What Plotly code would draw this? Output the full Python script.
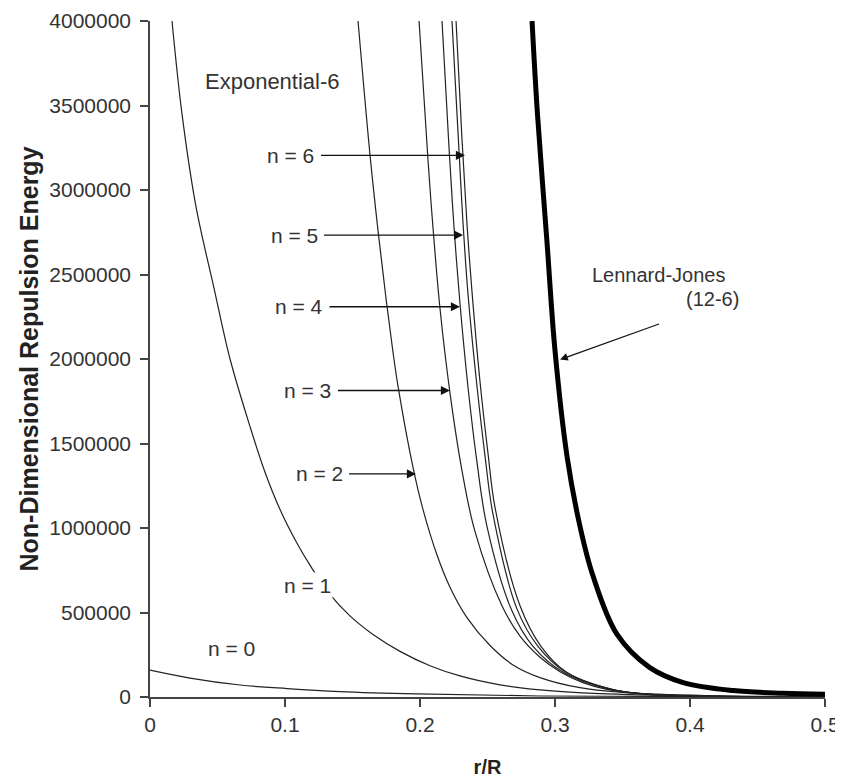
import plotly.graph_objects as go

# ---- data ----
n0_x = [0.0, 0.0296, 0.0667, 0.1015, 0.1407, 0.1978, 0.2889, 0.5]
n0_y = [159000, 112000, 71000, 50000, 32000, 18000, 6000, 0]

n1_x = [0.0163, 0.0237, 0.0341, 0.0474, 0.0593, 0.0741, 0.0852, 0.0963, 0.1089, 0.1185,
        0.1319, 0.1481, 0.1652, 0.1852, 0.2074, 0.2296, 0.2593, 0.2889, 0.3333, 0.4074, 0.5]
n1_y = [4000000, 3450000, 2900000, 2420000, 2000000, 1600000, 1330000, 1110000, 910000, 780000,
        620000, 480000, 370000, 270000, 185000, 125000, 72000, 42000, 20000, 6000, 0]

n2_x = [0.1541, 0.1630, 0.1689, 0.1748, 0.1800, 0.1837, 0.1948, 0.2022, 0.2126, 0.2222,
        0.2348, 0.2519, 0.2689, 0.2889, 0.3185, 0.348, 0.407, 0.5]
n2_y = [4000000, 3205000, 2760000, 2360000, 2040000, 1840000, 1360000, 1110000, 840000, 650000,
        470000, 305000, 190000, 115000, 55000, 28000, 10000, 0]

n3_x = [0.1993, 0.2059, 0.2096, 0.2148, 0.2222, 0.2311, 0.2407, 0.2607, 0.2741, 0.2889,
        0.3037, 0.3207, 0.3385, 0.370, 0.5]
n3_y = [4000000, 3180000, 2780000, 2300000, 1800000, 1340000, 980000, 540000, 360000, 235000,
        150000, 85000, 45000, 15000, 0]

n4_x = [0.2163, 0.2215, 0.2252, 0.2296, 0.2356, 0.2422, 0.2496, 0.2681, 0.2837, 0.3074, 0.3407, 0.370, 0.5]
n4_y = [4000000, 3250000, 2780000, 2330000, 1830000, 1390000, 1010000, 510000, 300000, 140000, 45000, 15000, 0]

n5_x = [0.2237, 0.2289, 0.2319, 0.2356, 0.2422, 0.2481, 0.2541, 0.2719, 0.2874, 0.3074, 0.3407, 0.370, 0.5]
n5_y = [4000000, 3230000, 2800000, 2380000, 1840000, 1430000, 1080000, 520000, 300000, 150000, 48000, 15000, 0]

n6_x = [0.2267, 0.2311, 0.2348, 0.2385, 0.2444, 0.2504, 0.2556, 0.2741, 0.2896, 0.3081, 0.3407, 0.370, 0.5]
n6_y = [4000000, 3300000, 2800000, 2400000, 1870000, 1440000, 1120000, 540000, 300000, 150000, 48000, 15000, 0]

lj_x = [0.283, 0.287, 0.294, 0.300, 0.309, 0.3185, 0.328, 0.346, 0.370, 0.395, 0.432, 0.469, 0.5]
lj_y = [4000000, 3450000, 2700000, 2050000, 1420000, 1010000, 720000, 370000, 175000, 85000, 38000, 22000, 16000]

y_ticks = [0, 500000, 1000000, 1500000, 2000000, 2500000, 3000000, 3500000, 4000000]
x_ticks = [0, 0.1, 0.2, 0.3, 0.4, 0.5]
x_tick_labels = ["0", "0.1", "0.2", "0.3", "0.4", "0.5"]

FONT = "Arial, Liberation Sans, sans-serif"

fig = go.Figure()
thin = dict(color="#222", width=1.2, shape="spline", smoothing=1.0)
for xs, ys, name in [(n0_x, n0_y, "n = 0"), (n1_x, n1_y, "n = 1"), (n2_x, n2_y, "n = 2"),
                     (n3_x, n3_y, "n = 3"), (n4_x, n4_y, "n = 4"), (n5_x, n5_y, "n = 5"),
                     (n6_x, n6_y, "n = 6")]:
    fig.add_trace(go.Scatter(x=xs, y=ys, mode="lines", line=thin, name=name, showlegend=False))
fig.add_trace(go.Scatter(x=lj_x, y=lj_y, mode="lines", name="Lennard-Jones (12-6)",
                         line=dict(color="black", width=5, shape="spline", smoothing=1.0),
                         showlegend=False))

ann_font = dict(family=FONT, size=21, color="#333")
annotations = []
# labels with arrows: (text, text_x, text_y, tip_x, tip_y)
arrowed = [("n = 6", 0.1044, 3205000, 0.2333, 3205000),
           ("n = 5", 0.1067, 2733000, 0.2319, 2733000),
           ("n = 4", 0.1104, 2309000, 0.2296, 2309000),
           ("n = 3", 0.1170, 1814000, 0.2222, 1814000),
           ("n = 2", 0.1252, 1320000, 0.1970, 1320000)]
for t, tx, ty, px, py in arrowed:
    annotations.append(dict(text=t, x=px, y=py, ax=tx, ay=ty, xref="x", yref="y",
                            axref="x", ayref="y", showarrow=True, arrowhead=2, arrowsize=1.3,
                            arrowwidth=1.4, arrowcolor="#111", font=ann_font, borderpad=6))
annotations.append(dict(text="n = 1", x=0.1170, y=660000, xref="x", yref="y", showarrow=False,
                        font=ann_font, bgcolor="white"))
annotations.append(dict(text="n = 0", x=0.0607, y=289000, xref="x", yref="y", showarrow=False,
                        font=ann_font))
annotations.append(dict(text="Exponential-6", x=0.0911, y=3641000, xref="x", yref="y",
                        showarrow=False, font=dict(family=FONT, size=22, color="#333")))
annotations.append(dict(text="Lennard-Jones", x=0.377, y=2498000, xref="x", yref="y",
                        showarrow=False, font=dict(family=FONT, size=20, color="#333")))
annotations.append(dict(text="(12-6)", x=0.4163, y=2356000, xref="x", yref="y",
                        showarrow=False, font=dict(family=FONT, size=20, color="#333")))
annotations.append(dict(text=" ", x=0.3037, y=1997000, ax=0.3778, ay=2209000, xref="x", yref="y",
                        axref="x", ayref="y", showarrow=True, arrowhead=2, arrowsize=1.3,
                        arrowwidth=1.2, arrowcolor="#111", font=dict(size=2), borderpad=0))

# the page adds an 8px body margin, so the figure is sized/offset to compensate
fig.update_layout(
    width=835, height=772,
    margin=dict(l=142, r=18, t=13, b=83),
    paper_bgcolor="white", plot_bgcolor="white",
    font=dict(family=FONT, color="#333"),
    annotations=annotations,
)
fig.update_xaxes(range=[0, 0.5], tickvals=x_ticks, ticktext=x_tick_labels, automargin=False,
                 ticklabeloverflow="allow",
                 showline=True, linecolor="#444", linewidth=1.5, ticks="outside", ticklen=8,
                 tickcolor="#444", tickwidth=1.5, showgrid=False, zeroline=False,
                 tickfont=dict(size=21, color="#333"),
                 title=dict(text="<b>r/R</b>", font=dict(size=20, color="#222"), standoff=25))
fig.update_yaxes(range=[0, 4000000], tickvals=y_ticks, ticktext=[str(v) for v in y_ticks],
                 automargin=False, ticklabelstandoff=5, ticklabeloverflow="allow",
                 showline=True, linecolor="#444", linewidth=1.5, ticks="outside", ticklen=8,
                 tickcolor="#444", tickwidth=1.5, showgrid=False, zeroline=False,
                 tickfont=dict(size=21, color="#333"),
                 title=dict(text="<b>Non-Dimensional Repulsion Energy</b>",
                            font=dict(size=25, color="#222"), standoff=4))

fig.write_html("out.html")
